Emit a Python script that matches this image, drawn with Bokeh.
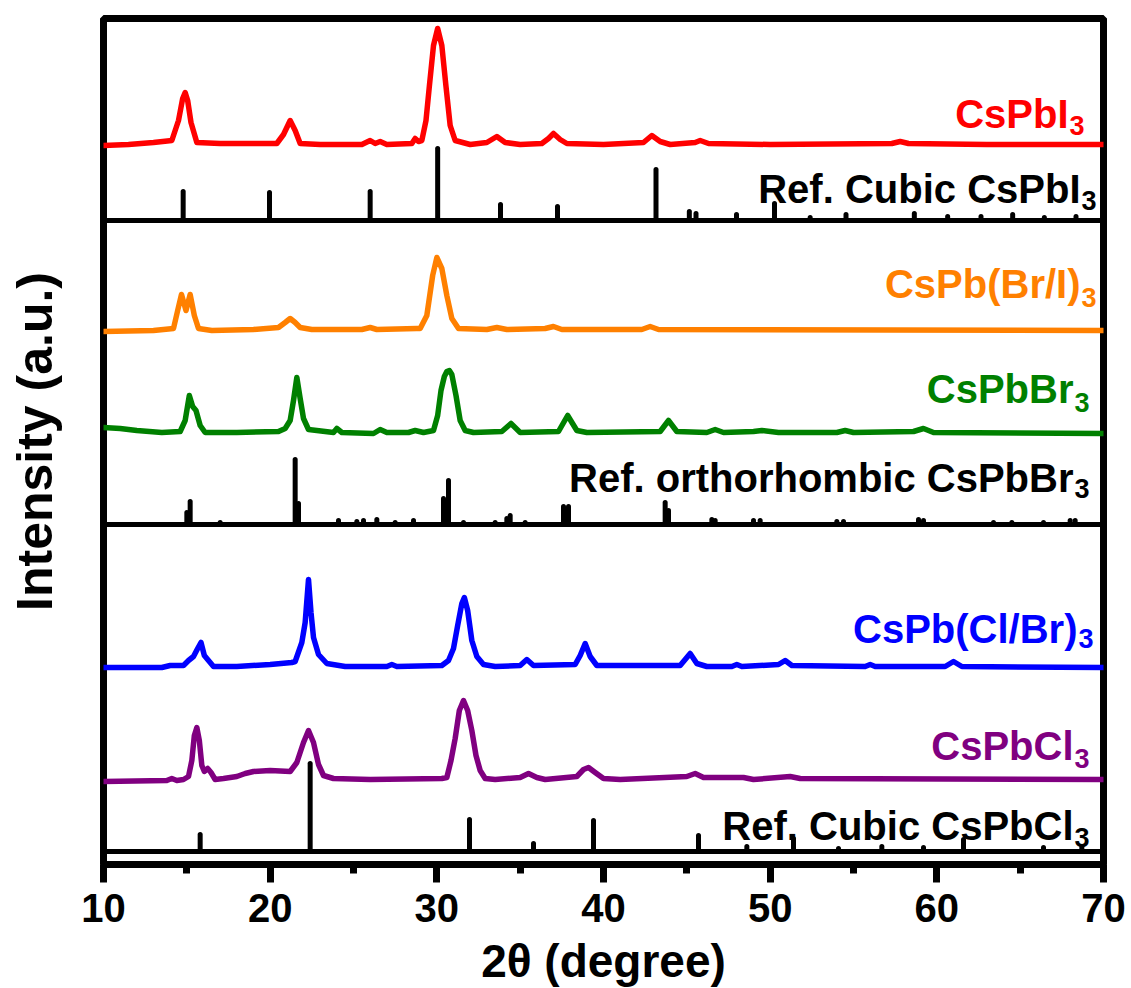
from bokeh.plotting import figure
from bokeh.models import Span, FixedTicker, Range1d
from bokeh.core.properties import value
from bokeh.embed import file_html
from bokeh.resources import INLINE

# ---------------- data (2theta in degree, intensity in a.u. above each trace baseline) ----------------
# CsPbI3 (red)
cspbi3_x = [10, 11.5, 13, 14.1, 14.5, 14.75, 14.9, 15.05, 15.25, 15.6, 17, 19, 20.4, 20.8, 21.2, 21.5, 21.8, 23,
            25.5, 26.0, 26.3, 26.6, 27.0, 28.5, 28.7, 28.9, 29.1, 29.35, 29.55, 29.8, 30.05, 30.3, 30.55, 30.8,
            31.1, 32, 33.0, 33.6, 34.1, 35, 36.3, 36.7, 37.0, 37.4, 37.8, 40, 42.4, 42.9, 43.4, 44, 45.5, 45.8,
            46.3, 50, 57.3, 57.8, 58.3, 63, 70]
cspbi3_y = [-1, 0, 2, 4, 24, 46, 52, 44, 22, 2, 1, 1, 1, 10, 24, 14, 1, 0,
            0, 4, 1, 3, 0, 1, 6, 3, 4, 24, 58, 99, 116, 99, 58, 19,
            4, 0, 2, 8, 2, 0, 1, 6, 11, 5, 1, 0, 2, 9, 3, 0, 2, 4,
            1, 0, 1, 3, 1, 0, 0]
# CsPb(Br/I)3 (orange)
cspbbri_x = [10, 13, 14.2, 14.45, 14.68, 14.95, 15.2, 15.45, 15.7, 16.5, 19, 20.5, 20.9, 21.2, 21.5, 21.8, 22.5,
             25.5, 26.0, 26.4, 28.8, 29.0, 29.4, 29.75, 30.0, 30.3, 30.6, 30.9, 31.3, 33.0, 33.6, 34.2, 36.5,
             37.0, 37.5, 42.3, 42.8, 43.3, 70]
cspbbri_y = [-1, 0, 2, 20, 36, 20, 36, 15, 2, 0, 1, 3, 8, 12, 8, 3, 1,
             1, 3, 1, 2, 2, 15, 55, 73, 62, 35, 12, 2, 1, 3, 1, 2,
             4, 1, 1, 4, 1, 0]
# CsPbBr3 (green)
cspbbr3_x = [10, 11, 12, 13.5, 14.6, 14.9, 15.15, 15.35, 15.55, 15.8, 16.1, 18, 20.5, 20.9, 21.2, 21.4, 21.6,
             21.8, 22.0, 22.3, 23.8, 24.0, 24.3, 26.2, 26.6, 27.0, 28.3, 28.7, 29.2, 29.8, 30.05, 30.25, 30.45,
             30.6, 30.75, 30.9, 31.15, 31.4, 31.7, 32.2, 33.9, 34.45, 35.0, 37.3, 37.85, 38.4, 39.0, 43.4, 43.9,
             44.4, 46.2, 46.7, 47.2, 49.0, 49.5, 50.5, 54.0, 54.5, 55.0, 58.6, 59.2, 59.8, 70]
cspbbr3_y = [5, 4, 2, 0, 1, 12, 37, 26, 22, 7, 0, 0, 1, 4, 12, 32, 55,
             34, 14, 3, 0, 4, 0, -1, 3, 0, 0, 2, 0, 2, 17, 42, 56,
             61, 62, 58, 37, 12, 2, 0, 1, 9, 0, 1, 17, 2, 0, 1, 12,
             1, 0, 3, 0, 1, 2, 0, 0, 2, 0, 1, 4, 0, -1]
# CsPb(Cl/Br)3 (blue)
cspbclbr_x = [10, 13.5, 14.0, 14.8, 15.1, 15.4, 15.65, 15.85, 16.05, 16.3, 16.6, 18, 20, 21.3, 21.5, 21.9, 22.1,
              22.3, 22.45, 22.6, 22.9, 23.4, 24.5, 27.0, 27.3, 27.6, 30.3, 30.7, 31.0, 31.25, 31.5, 31.65, 31.85,
              32.1, 32.4, 32.8, 33.5, 35.0, 35.4, 35.8, 38.3, 38.6, 38.9, 39.2, 39.6, 44.6, 45.0, 45.2, 45.6,
              46.2, 47.7, 48.0, 48.3, 50.5, 50.9, 51.3, 55.7, 56.0, 56.3, 60.5, 61.0, 61.5, 70]
cspbclbr_y = [0, 0, 2, 2, 7, 11, 19, 25, 12, 7, 1, 1, 3, 5, 6, 25, 45,
              88, 55, 30, 13, 4, 1, 1, 3, 1, 2, 7, 19, 42, 64, 70, 57,
              27, 11, 3, 1, 2, 8, 2, 3, 12, 24, 11, 2, 2, 10, 14, 4,
              1, 1, 3, 1, 3, 7, 2, 1, 3, 1, 1, 6, 1, 0]
# CsPbCl3 (purple)
cspbcl3_x = [10, 13.8, 14.1, 14.4, 14.8, 15.1, 15.3, 15.45, 15.6, 15.75, 15.9, 16.05, 16.25, 16.45, 16.7, 17.2,
             18.0, 18.5, 19.0, 20.0, 21.2, 21.6, 22.0, 22.3, 22.6, 22.9, 23.2, 23.8, 26, 30.3, 30.6, 30.85, 31.1,
             31.35, 31.6, 31.85, 32.1, 32.35, 32.6, 32.9, 33.5, 35.0, 35.5, 36.0, 36.5, 38.4, 38.8, 39.1, 39.5,
             40.0, 41, 45.0, 45.5, 46.0, 48.4, 49, 51.2, 51.8, 70]
cspbcl3_y = [-1, 0, 2, 0, 1, 4, 20, 45, 53, 40, 15, 9, 12, 8, 1, 2,
             4, 7, 9, 10, 9, 18, 38, 50, 38, 16, 5, 2, 1, 2, 3, 20, 42,
             70, 80, 70, 50, 25, 10, 2, 1, 3, 7, 3, 1, 4, 11, 13, 8,
             2, 1, 4, 7, 3, 3, 1, 4, 2, 1]

# reference stick patterns
ref_i3_x = [14.78, 19.96, 26.0, 30.05, 33.82, 37.24, 43.15, 45.15, 45.55, 47.98, 50.26, 52.4, 54.55, 58.65,
            60.65, 62.65, 64.55, 66.45, 68.35]
ref_i3_h = [29, 28, 29, 72, 16, 14, 51, 9, 7, 6, 17, 3, 6, 7, 4, 4, 6, 3, 4]
ref_br3_x = [15.0, 15.2, 17.0, 21.5, 21.7, 24.1, 25.2, 25.6, 26.4, 27.5, 28.6, 30.4, 30.7, 31.6, 33.5, 34.2,
             34.4, 35.3, 37.6, 37.9, 43.7, 43.9, 46.5, 46.7, 49.0, 49.4, 54.0, 54.4, 58.9, 59.2, 63.4, 64.5,
             66.4, 68.0, 68.3]
ref_br3_h = [12, 23, 2, 65, 21, 4, 3, 4, 5, 2, 4, 26, 44, 2, 2, 6,
             9, 2, 18, 18, 22, 14, 5, 4, 4, 4, 3, 3, 5, 4, 2, 2,
             2, 4, 4]
ref_cl3_x = [15.8, 22.4, 31.96, 35.8, 39.4, 45.7, 48.6, 51.4, 54.1, 56.7, 59.2, 61.6, 66.4, 68.7]
ref_cl3_h = [17, 88, 32, 8, 31, 16, 5, 13, 3, 5, 4, 12, 4, 5]

# baselines (a.u.) of the stacked traces and reference panels
trace_offsets = [720, 534, 432, 197, 84]
trace_colors = ["#FF0000", "#FF8000", "#008000", "#0000FF", "#800080"]
ref_baselines = [644, 340, 13]
panel_lines = [644, 340, 13]

# labels
label_main = ["CsPbI", "Ref. Cubic CsPbI", "CsPb(Br/I)", "CsPbBr", "Ref. orthorhombic CsPbBr",
              "CsPb(Cl/Br)", "CsPbCl", "Ref. Cubic CsPbCl"]
label_sub = ["3"] * 8
label_color = ["#FF0000", "#000000", "#FF8000", "#008000", "#000000", "#0000FF", "#800080", "#000000"]
label_x = [67.9, 68.62, 68.62, 68.2, 68.2, 68.44, 68.2, 68.2]
label_y = [751, 676, 581, 476, 387, 236, 119, 39]
sub_y = [739, 664, 567, 462, 376, 226, 106, 27]

x_ticks = [10, 20, 30, 40, 50, 60, 70]
x_minor = [15, 25, 35, 45, 55, 65]

# ---------------- figure ----------------
FONT = "Liberation Sans"
p = figure(frame_width=1000, frame_height=846, x_range=Range1d(10, 70), y_range=Range1d(0, 846),
           output_backend="svg", toolbar_location=None,
           min_border_left=103, min_border_right=28, min_border_top=18, min_border_bottom=124)
p.outline_line_color = "black"
p.outline_line_width = 7
p.outline_line_alpha = 1
p.grid.visible = False
p.background_fill_color = "white"
p.border_fill_color = "white"

xa = p.xaxis[0]
xa.ticker = FixedTicker(ticks=x_ticks, minor_ticks=x_minor)
xa.axis_line_width = 7
xa.axis_line_color = "black"
xa.major_tick_line_width = 7
xa.major_tick_out = 18
xa.major_tick_in = 0
xa.minor_tick_line_width = 7
xa.minor_tick_out = 9
xa.minor_tick_in = 0
xa.major_label_text_font = FONT
xa.major_label_text_font_style = "bold"
xa.major_label_text_font_size = "40px"
xa.major_label_text_color = "black"
xa.major_label_standoff = 11
xa.axis_label = "2θ (degree)"
xa.axis_label_text_font = FONT
xa.axis_label_text_font_style = "bold"
xa.axis_label_text_font_size = "46px"
xa.axis_label_text_color = "black"
xa.axis_label_standoff = 10

ya = p.yaxis[0]
ya.ticker = FixedTicker(ticks=[])
ya.axis_line_color = None
ya.major_tick_line_color = None
ya.minor_tick_line_color = None
ya.major_label_text_font_size = "0px"
ya.axis_label = "Intensity (a.u.)"
ya.axis_label_text_font = FONT
ya.axis_label_text_font_style = "bold"
ya.axis_label_text_font_size = "50px"
ya.axis_label_text_color = "black"
ya.axis_label_standoff = 41

for loc in panel_lines:
    p.add_layout(Span(location=loc, dimension="width", line_color="black", line_width=5))

# reference sticks
for xs, hs, base in [(ref_i3_x, ref_i3_h, ref_baselines[0]),
                     (ref_br3_x, ref_br3_h, ref_baselines[1]),
                     (ref_cl3_x, ref_cl3_h, ref_baselines[2])]:
    p.segment(x0=xs, y0=[base] * len(xs), x1=xs, y1=[base + h for h in hs],
              line_color="black", line_width=5, line_cap="round")

# measured traces
traces = [(cspbi3_x, cspbi3_y), (cspbbri_x, cspbbri_y), (cspbbr3_x, cspbbr3_y),
          (cspbclbr_x, cspbclbr_y), (cspbcl3_x, cspbcl3_y)]
for (xs, ys), off, col in zip(traces, trace_offsets, trace_colors):
    assert len(xs) == len(ys)
    p.line(xs, [off + v for v in ys], line_color=col, line_width=5.5, line_join="round", line_cap="round")

# labels with subscript "3"
p.text(x=label_x, y=label_y, text=label_main, text_color=label_color, text_align="right",
       text_baseline="alphabetic", text_font=value(FONT), text_font_style="bold", text_font_size="40px")
p.text(x=[v + 0.06 for v in label_x], y=sub_y, text=label_sub, text_color=label_color, text_align="left",
       text_baseline="alphabetic", text_font=value(FONT), text_font_style="bold", text_font_size="27px")

open("out.html", "w").write(file_html(p, INLINE))
